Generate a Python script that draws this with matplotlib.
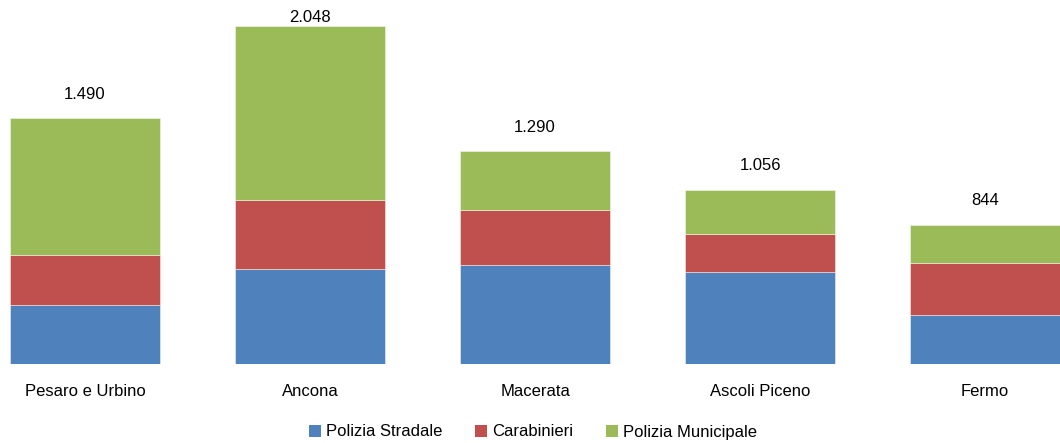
import matplotlib
matplotlib.use("Agg")
import matplotlib.pyplot as plt
from matplotlib.patches import Patch

provinces = ["Pesaro e Urbino", "Ancona", "Macerata", "Ascoli Piceno", "Fermo"]
series_names = ["Polizia Stradale", "Carabinieri", "Polizia Municipale"]
polizia_stradale = [357, 577, 599, 558, 296]
carabinieri = [306, 416, 336, 232, 318]
polizia_municipale = [827, 1055, 355, 266, 230]
totals = [1490, 2048, 1290, 1056, 844]
colors = ["#4F81BD", "#C0504D", "#9BBB59"]

plt.rcParams["font.family"] = ["Liberation Sans", "DejaVu Sans"]

fig = plt.figure(figsize=(10.6, 4.43), dpi=100)
ax = fig.add_axes([0, 1 - 364.3 / 443, 1, 364.3 / 443])

x = range(len(provinces))
width = 0.667
bottom = [0] * len(provinces)
for vals, col in zip([polizia_stradale, carabinieri, polizia_municipale], colors):
    ax.bar(x, vals, width, bottom=bottom, color=col, edgecolor=(1, 1, 1, 0.45),
           linewidth=0.7)
    bottom = [b + v for b, v in zip(bottom, vals)]

ymax = 2204
ax.set_xlim(-0.378, 4.333)
ax.set_ylim(0, ymax)
ax.axis("off")

label_offset = 145
label_cap = ymax - 103
for i, t in enumerate(totals):
    y = min(t + label_offset, label_cap)
    txt = f"{t:,}".replace(",", ".")
    ax.text(i, y, txt, ha="center", va="center", fontsize=12, color="#000000")

for i, name in enumerate(provinces):
    ax.text(i, -165, name, ha="center", va="center", fontsize=12, color="#000000",
            clip_on=False)

handles = [Patch(facecolor=c, edgecolor="none") for c in colors]
fig.legend(handles, series_names, loc="center", bbox_to_anchor=(533 / 1060, 1 - 432 / 443),
           ncol=3, frameon=False, fontsize=12, handlelength=0.7, handleheight=0.7,
           handletextpad=0.3, columnspacing=2.0, borderpad=0)

fig.savefig("out.png", dpi=100)
